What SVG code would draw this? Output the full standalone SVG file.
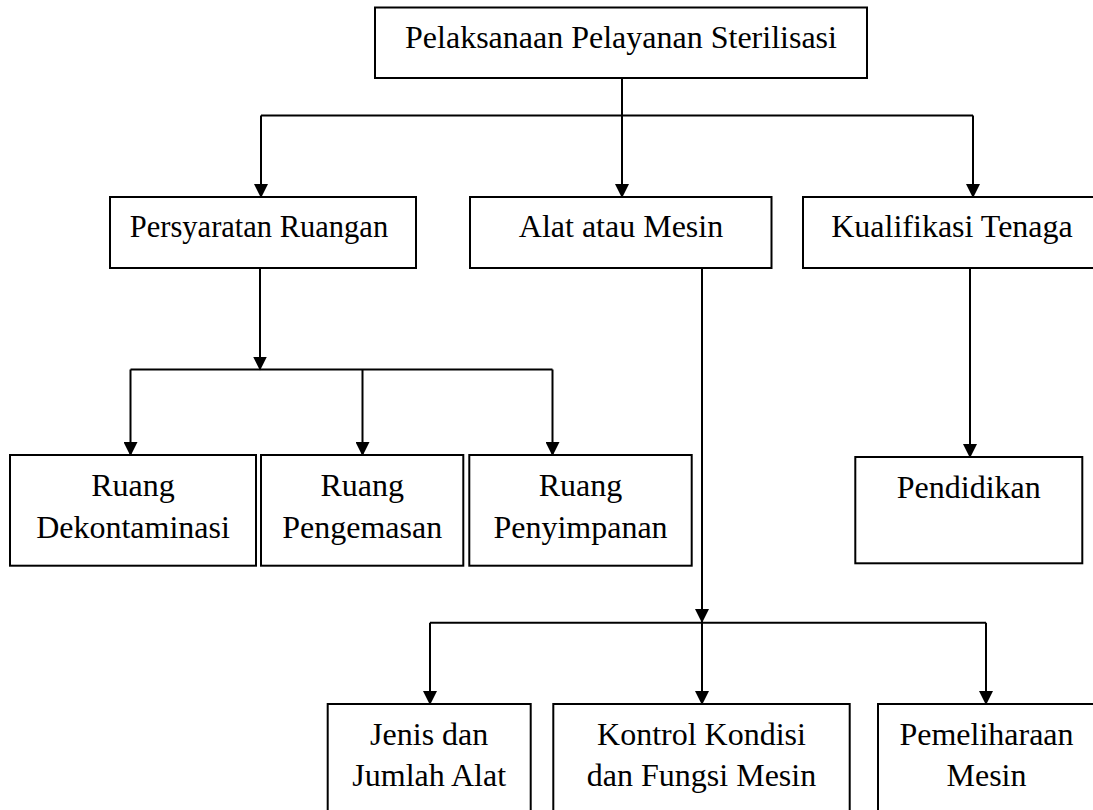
<svg xmlns="http://www.w3.org/2000/svg" width="1093" height="810" viewBox="0 0 1093 810">
<style>
.box{fill:#fff;stroke:#000;stroke-width:2}
.t{font-family:"Liberation Serif","Times New Roman",serif;font-size:32px;fill:#000;text-anchor:middle}
.c{fill:none;stroke:#000;stroke-width:2}
</style>
<defs>
<marker id="ah" viewBox="0 0 14 14" refX="13" refY="7" markerWidth="14" markerHeight="14" markerUnits="userSpaceOnUse" orient="auto">
<path d="M0,0 L14,7 L0,14 z" fill="#000"/>
</marker>
</defs>
<rect width="1093" height="810" fill="#fff"/>
<g id="connectors">
<path class="c" d="M622,78 V115.5"/>
<path class="c" d="M261,115.5 H973"/>
<path class="c" d="M261,115.5 V197" marker-end="url(#ah)"/>
<path class="c" d="M622,115.5 V197" marker-end="url(#ah)"/>
<path class="c" d="M973,115.5 V197" marker-end="url(#ah)"/>
<path class="c" d="M260,268 V369.5" marker-end="url(#ah)"/>
<path class="c" d="M130.5,369.5 H552.5"/>
<path class="c" d="M130.5,369.5 V455" marker-end="url(#ah)"/>
<path class="c" d="M362.5,369.5 V455" marker-end="url(#ah)"/>
<path class="c" d="M552.5,369.5 V455" marker-end="url(#ah)"/>
<path class="c" d="M702,268 V622" marker-end="url(#ah)"/>
<path class="c" d="M430,622.7 H986"/>
<path class="c" d="M430,622.7 V704" marker-end="url(#ah)"/>
<path class="c" d="M702,622.7 V704" marker-end="url(#ah)"/>
<path class="c" d="M986,622.7 V704" marker-end="url(#ah)"/>
<path class="c" d="M970,268 V457" marker-end="url(#ah)"/>
</g>
<g id="n-root">
<rect class="box" x="375" y="7.5" width="492" height="70.5"/>
<text class="t" x="621" y="48">Pelaksanaan Pelayanan Sterilisasi</text>
</g>
<g id="n-persyaratan">
<rect class="box" x="110" y="197" width="306" height="71"/>
<text class="t" x="259" y="237" style="font-size:30.5px">Persyaratan Ruangan</text>
</g>
<g id="n-alat">
<rect class="box" x="470" y="197" width="301.5" height="71"/>
<text class="t" x="621" y="237">Alat atau Mesin</text>
</g>
<g id="n-kualifikasi">
<rect class="box" x="803" y="197" width="298" height="71"/>
<text class="t" x="952" y="237">Kualifikasi Tenaga</text>
</g>
<g id="n-dekontaminasi">
<rect class="box" x="10" y="455" width="246" height="110.7"/>
<text class="t" x="133" y="495.5">Ruang</text>
<text class="t" x="133" y="537.7">Dekontaminasi</text>
</g>
<g id="n-pengemasan">
<rect class="box" x="261" y="455" width="202.3" height="110.7"/>
<text class="t" x="362.2" y="495.5">Ruang</text>
<text class="t" x="362.2" y="537.7">Pengemasan</text>
</g>
<g id="n-penyimpanan">
<rect class="box" x="469.3" y="455" width="222.4" height="110.7"/>
<text class="t" x="580.5" y="495.5">Ruang</text>
<text class="t" x="580.5" y="537.7">Penyimpanan</text>
</g>
<g id="n-pendidikan">
<rect class="box" x="855.3" y="457" width="227" height="106.3"/>
<text class="t" x="968.8" y="497.7">Pendidikan</text>
</g>
<g id="n-jenis">
<rect class="box" x="327.7" y="704" width="203" height="130"/>
<text class="t" x="429.2" y="745">Jenis dan</text>
<text class="t" x="429.2" y="786">Jumlah Alat</text>
</g>
<g id="n-kontrol">
<rect class="box" x="553.3" y="704" width="296.4" height="130"/>
<text class="t" x="701.5" y="745">Kontrol Kondisi</text>
<text class="t" x="701.5" y="786">dan Fungsi Mesin</text>
</g>
<g id="n-pemeliharaan">
<rect class="box" x="878" y="704" width="217" height="130"/>
<text class="t" x="986.5" y="745">Pemeliharaan</text>
<text class="t" x="986.5" y="786">Mesin</text>
</g>
</svg>
